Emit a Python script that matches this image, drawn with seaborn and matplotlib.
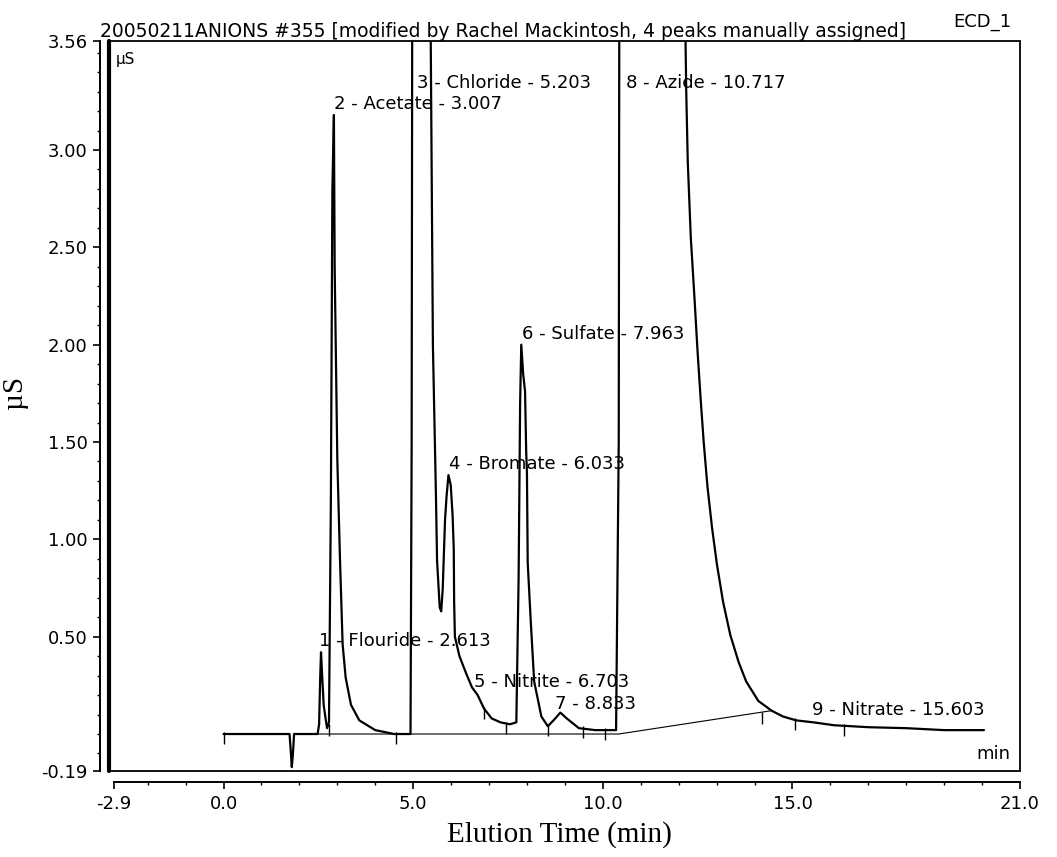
import matplotlib
matplotlib.use("Agg")
import matplotlib.pyplot as plt
import seaborn as sns
import pandas as pd
from matplotlib.patches import Rectangle
from matplotlib.ticker import FixedLocator, FixedFormatter

# ---------------- data ----------------
time_min = [0.00, 1.74, 1.77, 1.80, 1.83, 1.86, 2.48, 2.52, 2.55, 2.57, 2.60, 2.64,
            2.69, 2.73, 2.78, 2.83, 2.87, 2.91, 2.93, 3.00, 3.07, 3.14, 3.22, 3.36,
            3.58, 4.00, 4.50, 4.93, 4.96, 4.98, 5.20, 5.44, 5.52, 5.60, 5.63, 5.70,
            5.74, 5.78, 5.84, 5.88, 5.93, 5.99, 6.04, 6.07, 6.08, 6.10, 6.22, 6.40,
            6.55, 6.70, 6.87, 7.07, 7.30, 7.55, 7.72, 7.78, 7.82, 7.85, 7.90, 7.95,
            7.98, 8.00, 8.02, 8.10, 8.19, 8.38, 8.55, 8.70, 8.88, 9.05, 9.37, 9.80,
            10.35, 10.42, 10.45, 10.72, 12.15, 12.20, 12.24, 12.32, 12.42, 12.50,
            12.58, 12.66, 12.76, 12.88, 13.01, 13.17, 13.36, 13.58, 13.78, 14.10,
            14.45, 14.75, 15.10, 15.55, 16.10, 17.00, 18.00, 19.00, 20.05]
signal_us = [0.00, 0.00, -0.08, -0.17, -0.10, 0.00, 0.00, 0.05, 0.30, 0.42, 0.30, 0.15,
             0.08, 0.03, 0.06, 1.20, 2.80, 3.18, 2.40, 1.41, 0.90, 0.46, 0.29, 0.15,
             0.07, 0.02, 0.00, 0.00, 1.50, 4.50, 5.00, 4.20, 2.00, 1.23, 0.89, 0.65,
             0.63, 0.75, 1.10, 1.22, 1.33, 1.28, 1.12, 0.95, 0.68, 0.50, 0.40, 0.31,
             0.24, 0.20, 0.13, 0.08, 0.06, 0.05, 0.06, 0.80, 1.70, 2.00, 1.85, 1.76,
             1.45, 1.34, 0.88, 0.58, 0.27, 0.09, 0.04, 0.07, 0.11, 0.08, 0.03, 0.02,
             0.02, 1.50, 6.00, 8.00, 4.00, 3.30, 2.94, 2.55, 2.23, 1.96,
             1.72, 1.50, 1.27, 1.06, 0.87, 0.68, 0.51, 0.37, 0.27, 0.17,
             0.12, 0.09, 0.07, 0.06, 0.045, 0.035, 0.03, 0.02, 0.02]

baseline_time = [1.86, 10.42, 14.45]
baseline_signal = [0.00, 0.00, 0.12]

boundary_time = [0.00, 2.78, 4.55, 6.87, 7.45, 8.55, 9.48, 10.05, 14.20, 15.08, 16.35]
boundary_signal = [0.00, 0.04, 0.00, 0.13, 0.05, 0.04, 0.03, 0.02, 0.10, 0.07, 0.04]

peak_numbers = [1, 2, 3, 4, 5, 6, 7, 8, 9]
peak_names = ["Flouride", "Acetate", "Chloride", "Bromate", "Nitrite", "Sulfate", "",
              "Azide", "Nitrate"]
peak_rt = [2.613, 3.007, 5.203, 6.033, 6.703, 7.963, 8.833, 10.717, 15.603]
peak_height = [0.42, 3.18, 3.56, 1.33, 0.21, 2.00, 0.10, 3.56, 0.07]

x_ticks = [-2.9, 0.0, 5.0, 10.0, 15.0, 21.0]
x_tick_labels = ["-2.9", "0.0", "5.0", "10.0", "15.0", "21.0"]
y_ticks = [-0.19, 0.50, 1.00, 1.50, 2.00, 2.50, 3.00, 3.56]
y_tick_labels = ["-0.19", "0.50", "1.00", "1.50", "2.00", "2.50", "3.00", "3.56"]

title_text = "20050211ANIONS #355 [modified by Rachel Mackintosh, 4 peaks manually assigned]"
channel_text = "ECD_1"

# ---------------- plotting ----------------
sns.set_theme(style="ticks")
plt.rcParams["font.family"] = ["DejaVu Sans"]
plt.rcParams["text.color"] = "black"
plt.rcParams["axes.labelcolor"] = "black"
plt.rcParams["xtick.color"] = "black"
plt.rcParams["ytick.color"] = "black"

fig = plt.figure(figsize=(10.57, 8.57), dpi=100)
ax = fig.add_axes([109 / 1057, 1 - 771 / 857, 911 / 1057, 730 / 857])
ax.set_facecolor("white")

trace = pd.DataFrame({"time": time_min, "signal": signal_us})
sns.lineplot(data=trace, x="time", y="signal", ax=ax, color="black", lw=1.6,
             sort=False, estimator=None)
sns.lineplot(x=baseline_time, y=baseline_signal, ax=ax, color="black", lw=0.8,
             sort=False, estimator=None)
ax.plot(boundary_time, [v - 0.02 for v in boundary_signal], ls="none", marker="|",
        ms=9, mew=1.0, color="black")

ax.set_xlim(-3.02, 21.0)
ax.set_ylim(-0.19, 3.56)

# peak labels
for num, name, rt, h in zip(peak_numbers, peak_names, peak_rt, peak_height):
    label = f"{num} - {name} - {rt:.3f}" if name else f"{num} - {rt:.3f}"
    ax.text(rt - 0.1, min(h, 3.29) + 0.03, label, ha="left", va="baseline",
            fontsize=13, color="black", clip_on=False)

# axes styling: outer offset axes with ticks, inner frame box
for side in ["top", "right"]:
    ax.spines[side].set_visible(False)
ax.spines["left"].set_position(("outward", 6.5))
ax.spines["bottom"].set_position(("outward", 8))
ax.spines["left"].set_bounds(-0.19, 3.56)
ax.spines["bottom"].set_bounds(-2.9, 21.0)
for side in ["left", "bottom"]:
    ax.spines[side].set_linewidth(1.4)
    ax.spines[side].set_color("black")

ax.add_patch(Rectangle((0, 0), 1, 1, transform=ax.transAxes, fill=False,
                       lw=1.3, ec="black", clip_on=False, zorder=5))
ax.plot([0, 0], [0, 1], transform=ax.transAxes, lw=3.0, color="black",
        clip_on=False, zorder=6)

ax.xaxis.set_major_locator(FixedLocator(x_ticks))
ax.xaxis.set_major_formatter(FixedFormatter(x_tick_labels))
ax.xaxis.set_minor_locator(FixedLocator([v for v in range(-2, 21) if v not in (0, 5, 10, 15)]))
ax.yaxis.set_major_locator(FixedLocator(y_ticks))
ax.yaxis.set_major_formatter(FixedFormatter(y_tick_labels))
ax.yaxis.set_minor_locator(FixedLocator([round(v * 0.1, 1) for v in range(-1, 36)
                                         if round(v * 0.1, 1) not in (0.5, 1.0, 1.5, 2.0, 2.5, 3.0)]))
ax.tick_params(which="major", direction="out", length=5, width=1.2, labelsize=13,
               colors="black", pad=4)
ax.tick_params(which="minor", direction="out", length=2.5, width=1.0, colors="black")

ax.set_xlabel("Elution Time (min)", family="Liberation Serif", fontsize=21, color="black")
ax.set_ylabel("\u00b5S", family="Liberation Serif", fontsize=21, color="black")
ax.xaxis.set_label_coords(0.494, -0.068)
ax.yaxis.set_label_coords(-0.089, 0.518)

# texts on the frame
ax.annotate(title_text, xy=(-0.01, 1.0), xycoords="axes fraction", xytext=(0, 3),
            textcoords="offset points", ha="left", va="baseline", fontsize=13.5,
            color="black")
ax.annotate(channel_text, xy=(0.99, 1.0), xycoords="axes fraction", xytext=(0, 10),
            textcoords="offset points", ha="right", va="baseline", fontsize=13,
            color="black")
ax.annotate("\u00b5S", xy=(0.0, 1.0), xycoords="axes fraction", xytext=(5, -8),
            textcoords="offset points", ha="left", va="top", fontsize=11, color="black")
ax.annotate("min", xy=(1.0, 0.0), xycoords="axes fraction", xytext=(-7, 6),
            textcoords="offset points", ha="right", va="bottom", fontsize=13,
            color="black")

fig.savefig("out.png", dpi=100, facecolor="white")
